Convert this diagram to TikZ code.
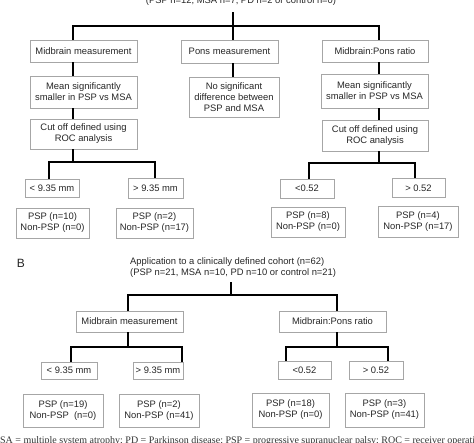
\documentclass[tikz,border=0pt]{standalone}
\usepackage{fontspec}
\setmainfont{Liberation Sans}
\newfontfamily\footfont{Liberation Serif}
\begin{document}
\begin{tikzpicture}[x=1pt,y=-1pt,
  box/.style={draw=black!35, line width=0.8pt, align=center, inner sep=0pt,
    font=\fontsize{9.4}{11}\selectfont, text=black!85},
  conn/.style={draw=black, line width=1.5pt},
  lbl/.style={inner sep=0pt, font=\fontsize{9.4}{11}\selectfont, text=black!85}]
\useasboundingbox (0,0) rectangle (474,442);
\clip (0,0) rectangle (474,442);
% ---------- A ----------
\node[lbl, anchor=base] (tA) at (241,3) {(PSP n=12, MSA n=7, PD n=2 or control n=0)};
\coordinate (tAa) at (233,12);
\node[box, minimum width=107pt, minimum height=22pt] (m1) at (83.5,51) {Midbrain measurement};
\node[box, minimum width=97pt, minimum height=23pt] (p1) at (229.5,51.5) {Pons measurement};
\node[box, minimum width=106pt, minimum height=22pt] (r1) at (375,51) {Midbrain:Pons ratio};
\node[box, minimum width=107pt, minimum height=32pt] (m2) at (83.5,92) {Mean significantly\\smaller in PSP vs MSA};
\node[box, minimum width=90pt, minimum height=40pt] (p2) at (234,97) {No significant\\difference between\\PSP and MSA};
\node[box, minimum width=107pt, minimum height=34pt] (r2) at (374.5,91) {Mean significantly\\smaller in PSP vs MSA};
\node[box, minimum width=107pt, minimum height=30pt] (m3) at (83.5,134) {Cut off defined using\\ROC analysis};
\node[box, minimum width=106pt, minimum height=31pt] (r3) at (375,135.5) {Cut off defined using\\ROC analysis};
\node[box, minimum width=54pt, minimum height=18pt] (a1) at (52,188) {{<} 9.35 mm};
\node[box, minimum width=55pt, minimum height=20pt] (a2) at (155.5,188) {{>} 9.35 mm};
\node[box, minimum width=54pt, minimum height=19pt] (a3) at (307,188.5) {{<}0.52};
\node[box, minimum width=53pt, minimum height=19pt] (a4) at (418.5,188) {{>} 0.52};
\node[box, minimum width=73pt, minimum height=30pt] (ra1) at (52.5,223) {PSP (n=10)\\Non-PSP (n=0)};
\node[box, minimum width=77pt, minimum height=30pt] (ra2) at (154.5,223) {PSP (n=2)\\Non-PSP (n=17)};
\node[box, minimum width=74pt, minimum height=30pt] (ra3) at (308,222) {PSP (n=8)\\Non-PSP (n=0)};
\node[box, minimum width=80pt, minimum height=31pt] (ra4) at (418,221.5) {PSP (n=4)\\Non-PSP (n=17)};
% columns
\coordinate (cm) at (73,0);
\coordinate (cp) at (233,0);
\coordinate (cr) at (379,0);
\coordinate (barA) at (0,26);
\coordinate (forkA) at (0,162);
\coordinate (forkR) at (0,163);
\draw[conn] (tAa) -- (tAa |- barA);
\draw[conn] (m1.north -| cm) -- (cm |- barA) -- (cr |- barA) -- (r1.north -| cr);
\draw[conn] (cp |- barA) -- (p1.north -| cp);
\draw[conn] (m1.south -| cm) -- (m2.north -| cm);
\draw[conn] (m2.south -| cm) -- (m3.north -| cm);
\draw[conn] (p1.south -| cp) -- (p2.north -| cp);
\draw[conn] (r1.south -| cr) -- (r2.north -| cr);
\draw[conn] (r2.south -| cr) -- (r3.north -| cr);
\coordinate (dl1) at (49,0);
\coordinate (dl2) at (155,0);
\draw[conn] (m3.south -| cm) -- (cm |- forkA);
\draw[conn] (a1.north -| dl1) -- (dl1 |- forkA) -- (dl2 |- forkA) -- (a2.north -| dl2);
\coordinate (dr1) at (309,0);
\coordinate (dr2) at (415,0);
\draw[conn] (r3.south -| cr) -- (cr |- forkR);
\draw[conn] (a3.north -| dr1) -- (dr1 |- forkR) -- (dr2 |- forkR) -- (a4.north -| dr2);
% ---------- B ----------
\node[inner sep=0pt, font=\fontsize{12}{14}\selectfont, text=black!85] (B) at (21,263.5) {B};
\node[lbl, anchor=west, align=left] (tB) at (130,268) {Application to a clinically defined cohort (n=62)\\(PSP n=21, MSA n=10, PD n=10 or control n=21)};
\coordinate (tBa) at (231,282);
\coordinate (barB) at (0,295);
\node[box, minimum width=107pt, minimum height=21pt] (bm1) at (129.5,321.5) {Midbrain measurement};
\node[box, minimum width=107pt, minimum height=21pt] (br1) at (332.5,321.5) {Midbrain:Pons ratio};
\node[box, minimum width=56pt, minimum height=17pt] (ba1) at (69,370.5) {{<} 9.35 mm};
\node[box, minimum width=50pt, minimum height=17pt] (ba2) at (158,370.5) {{>} 9.35 mm};
\node[box, minimum width=53pt, minimum height=18pt] (ba3) at (304.5,370) {{<}0.52};
\node[box, minimum width=54pt, minimum height=18pt] (ba4) at (376,370) {{>} 0.52};
\node[box, minimum width=80pt, minimum height=33pt] (rb1) at (63,410.5) {PSP (n=19)\\Non-PSP\ \ (n=0)};
\node[box, minimum width=80pt, minimum height=33pt] (rb2) at (159,410.5) {PSP (n=2)\\Non-PSP (n=41)};
\node[box, minimum width=77pt, minimum height=34pt] (rb3) at (290.5,410) {PSP (n=18)\\Non-PSP (n=0)};
\node[box, minimum width=79pt, minimum height=34pt] (rb4) at (384.5,410) {PSP (n=3)\\Non-PSP (n=41)};
\coordinate (cbm) at (128,0);
\coordinate (cbr) at (337,0);
\draw[conn] (tBa) -- (tBa |- barB);
\draw[conn] (bm1.north -| cbm) -- (cbm |- barB) -- (cbr |- barB) -- (br1.north -| cbr);
\coordinate (forkB) at (0,347);
\coordinate (eb1) at (71,0);
\coordinate (eb2) at (182,0);
\coordinate (eb3) at (286,0);
\coordinate (eb4) at (388,0);
\draw[conn] (bm1.south -| cbm) -- (cbm |- forkB);
\draw[conn] (ba1.north -| eb1) -- (eb1 |- forkB) -- (eb2 |- forkB) -- (ba2.north -| eb2);
\draw[conn] (br1.south -| cbr) -- (cbr |- forkB);
\draw[conn] (ba3.north -| eb3) -- (eb3 |- forkB) -- (eb4 |- forkB) -- (ba4.north -| eb4);
% footnote (cut off)
\node[inner sep=0pt, anchor=base west, font=\footfont\fontsize{10}{12}\selectfont, text=black!80] (fn) at (-9,443.5) {MSA = multiple system atrophy; PD = Parkinson disease; PSP = progressive supranuclear palsy; ROC = receiver operating characteristic.};
\end{tikzpicture}
\end{document}
